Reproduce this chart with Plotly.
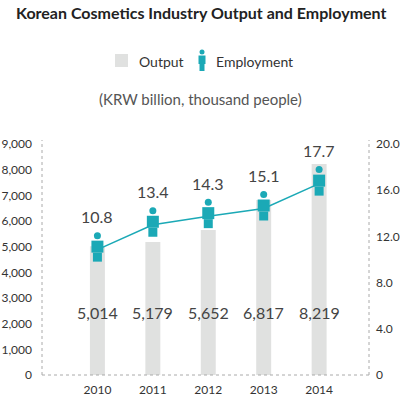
import plotly.graph_objects as go

years = [2010, 2011, 2012, 2013, 2014]
output = [5014, 5179, 5652, 6817, 8219]
employment = [10.8, 13.4, 14.3, 15.1, 17.7]
output_labels = ["5,014", "5,179", "5,652", "6,817", "8,219"]
employment_labels = ["10.8", "13.4", "14.3", "15.1", "17.7"]
left_ticks = [0, 1000, 2000, 3000, 4000, 5000, 6000, 7000, 8000, 9000]
left_ticktext = ["0", "1,000", "2,000", "3,000", "4,000", "5,000", "6,000", "7,000", "8,000", "9,000"]
right_ticks = [0, 4, 8, 12, 16, 20]
right_ticktext = ["0", "4.0", "8.0", "12.0", "16.0", "20.0"]

TEAL = "#1ba9b6"
GRAY = "#e0e1e0"
TXT = "#444444"
FONT = "Lato"

# plot-area geometry (pixels) used for decorations
L, R, T, B = 42, 31, 144, 25
PW, PH = 400 - L - R, 400 - T - B
PXU = 9.57  # pixels per employment unit on the hidden axis

fig = go.Figure()
fig.add_trace(go.Bar(x=years, y=output, width=0.27, marker=dict(color=GRAY, line=dict(width=0)),
                     yaxis="y", hoverinfo="skip", showlegend=False))
fig.add_trace(go.Scatter(x=years, y=employment, mode="lines", line=dict(color=TEAL, width=1.5),
                         yaxis="y3", hoverinfo="skip", showlegend=False))
# person icons: legs, torso, head
fig.add_trace(go.Scatter(x=years, y=[v - 7.5 / PXU for v in employment], mode="markers",
                         marker=dict(symbol="square", size=9, color=TEAL, line=dict(width=0)),
                         yaxis="y3", hoverinfo="skip", showlegend=False))
fig.add_trace(go.Scatter(x=years, y=[v + 3 / PXU for v in employment], mode="markers",
                         marker=dict(symbol="square", size=12, color=TEAL, line=dict(width=0)),
                         yaxis="y3", hoverinfo="skip", showlegend=False))
fig.add_trace(go.Scatter(x=years, y=[v + 14 / PXU for v in employment], mode="markers",
                         marker=dict(symbol="circle", size=7, color=TEAL, line=dict(width=0)),
                         yaxis="y3", hoverinfo="skip", showlegend=False))

annotations = []
for x, lab in zip(years, output_labels):
    annotations.append(dict(x=x, y=2450, xref="x", yref="y", text=lab, showarrow=False,
                            yanchor="middle", font=dict(family=FONT, size=16, color=TXT)))
for x, v, lab in zip(years, employment, employment_labels):
    annotations.append(dict(x=x, y=v, xref="x", yref="y3", text=lab, showarrow=False, yshift=33,
                            yanchor="middle", font=dict(family=FONT, size=16, color=TXT)))

def px(xp):
    return (xp - L) / PW

def py(yp):
    return (400 - B - yp) / PH

annotations += [
    dict(x=px(137), y=py(61), xref="paper", yref="paper", xanchor="left", yanchor="middle",
         text="Output", showarrow=False, font=dict(family=FONT, size=14, color="#333")),
    dict(x=px(214), y=py(61), xref="paper", yref="paper", xanchor="left", yanchor="middle",
         text="Employment", showarrow=False, font=dict(family=FONT, size=14, color="#333")),
    dict(x=px(200), y=py(99), xref="paper", yref="paper", xanchor="center", yanchor="middle",
         text="(KRW billion, thousand people)", showarrow=False,
         font=dict(family=FONT, size=15, color="#555")),
    dict(x=px(201), y=py(12), xref="paper", yref="paper", xanchor="center", yanchor="middle",
         text="<b>Korean Cosmetics Industry Output and Employment</b>", showarrow=False,
         font=dict(family=FONT, size=16, color="#222")),
]

shapes = [
    dict(type="rect", xref="paper", yref="paper", x0=px(115), x1=px(128), y0=py(67), y1=py(54),
         fillcolor=GRAY, line=dict(width=0)),
    dict(type="circle", xref="paper", yref="paper", x0=px(199.5), x1=px(204.5), y0=py(54.5), y1=py(49.5),
         fillcolor=TEAL, line=dict(width=0)),
    dict(type="rect", xref="paper", yref="paper", x0=px(198.5), x1=px(205.5), y0=py(64), y1=py(55.5),
         fillcolor=TEAL, line=dict(width=0)),
    dict(type="rect", xref="paper", yref="paper", x0=px(199.5), x1=px(204.5), y0=py(71), y1=py(63),
         fillcolor=TEAL, line=dict(width=0)),
    # dashed frame lines
    dict(type="line", xref="paper", yref="paper", x0=0, x1=0, y0=0, y1=py(140),
         line=dict(color="#aaaaaa", width=1, dash="3px,3px")),
    dict(type="line", xref="paper", yref="paper", x0=1, x1=1, y0=0, y1=py(140),
         line=dict(color="#aaaaaa", width=1, dash="3px,3px")),
    dict(type="line", xref="paper", yref="paper", x0=0, x1=1, y0=0, y1=0,
         line=dict(color="#aaaaaa", width=1, dash="3px,3px")),
]

fig.update_layout(
    width=400, height=400,
    margin=dict(l=L, r=R, t=T, b=B, autoexpand=False),
    paper_bgcolor="white", plot_bgcolor="white",
    showlegend=False,
    font=dict(family=FONT, color="#333"),
    xaxis=dict(range=[2009.0, 2014.9], tickvals=years, ticktext=[str(y) for y in years],
               showgrid=False, zeroline=False, showline=False, ticks="", automargin=False,
               ticklabelstandoff=6, tickfont=dict(family=FONT, size=12, color="#333")),
    yaxis=dict(range=[0, 9000], tickvals=left_ticks, ticktext=left_ticktext, showgrid=False,
               zeroline=False, showline=False, ticks="", ticklabelstandoff=9, automargin=False,
               tickfont=dict(family=FONT, size=12, color="#333")),
    yaxis2=dict(range=[0, 20], tickvals=right_ticks, ticktext=right_ticktext, overlaying="y", side="right",
                showgrid=False, zeroline=False, showline=False, ticks="", ticklabelstandoff=6,
                automargin=False, tickfont=dict(family=FONT, size=12, color="#333")),
    yaxis3=dict(range=[-2.3, 21.84], overlaying="y", visible=False, automargin=False),
    annotations=annotations,
    shapes=shapes,
)
# invisible trace so the right-hand axis is drawn
fig.add_trace(go.Scatter(x=[years[0]], y=[0], yaxis="y2", mode="markers", marker=dict(opacity=0),
                         hoverinfo="skip", showlegend=False))

fig.write_html("out.html", config=dict(displayModeBar=False, responsive=False),
               post_script="document.body.style.margin='0';document.body.style.padding='0';"
                           "document.body.style.overflow='hidden';")
